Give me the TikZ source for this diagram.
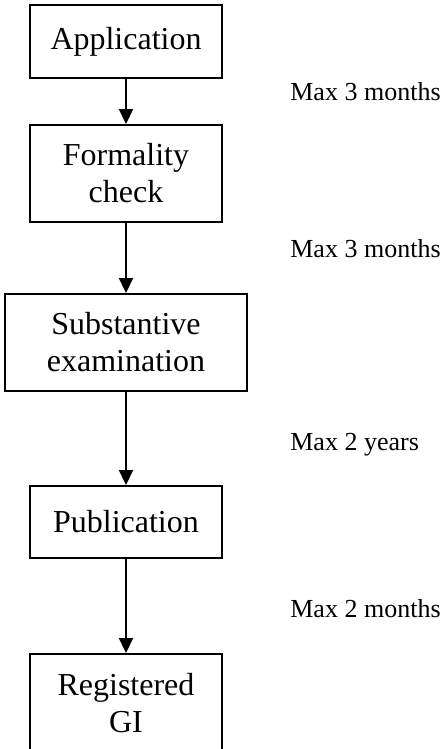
\documentclass[tikz,border=0pt]{standalone}
\usepackage{fontspec}
\setmainfont{Liberation Serif}
\usetikzlibrary{arrows.meta}
\tikzset{stage/.style={draw, line width=1.1pt, minimum width=3.84cm, inner sep=0mm, align=center, font=\fontsize{18.2}{21}\selectfont}}
\tikzset{limit/.style={anchor=base west, inner sep=0mm, font=\fontsize{14.8}{17}\selectfont}}
\tikzset{flow/.style={line width=1.1pt, -{Triangle[width=0.28cm, length=0.3cm]}}}

\begin{document}
\begin{tikzpicture}
    \useasboundingbox (0cm, 0cm) rectangle (8.84cm, -14.98cm);
    \clip (0cm, 0cm) rectangle (8.84cm, -14.98cm);

    \node (app) [stage, minimum height=1.46cm] at (2.52cm, -0.83cm) {Application};
    \node (form) [stage, minimum height=1.94cm] at (2.52cm, -3.47cm) {Formality\\check};
    \node (exam) [stage, minimum height=1.94cm, minimum width=4.84cm] at (2.52cm, -6.85cm) {Substantive\\examination};
    \node (pub) [stage, minimum height=1.44cm] at (2.52cm, -10.44cm) {Publication};
    \node (reg) [stage, minimum height=1.96cm] at (2.52cm, -14.06cm) {Registered\\GI};

    \node (t1) [limit] at (5.8cm, -2.0cm) {Max 3 months};
    \node (t2) [limit] at (5.8cm, -5.14cm) {Max 3 months};
    \node (t3) [limit] at (5.8cm, -9.0cm) {Max 2 years};
    \node (t4) [limit] at (5.8cm, -12.34cm) {Max 2 months};

    \draw (app) edge[flow] (form);
    \draw (form) edge[flow] (exam);
    \draw (exam) edge[flow] (pub);
    \draw (pub) edge[flow] (reg);
\end{tikzpicture}
\end{document}
